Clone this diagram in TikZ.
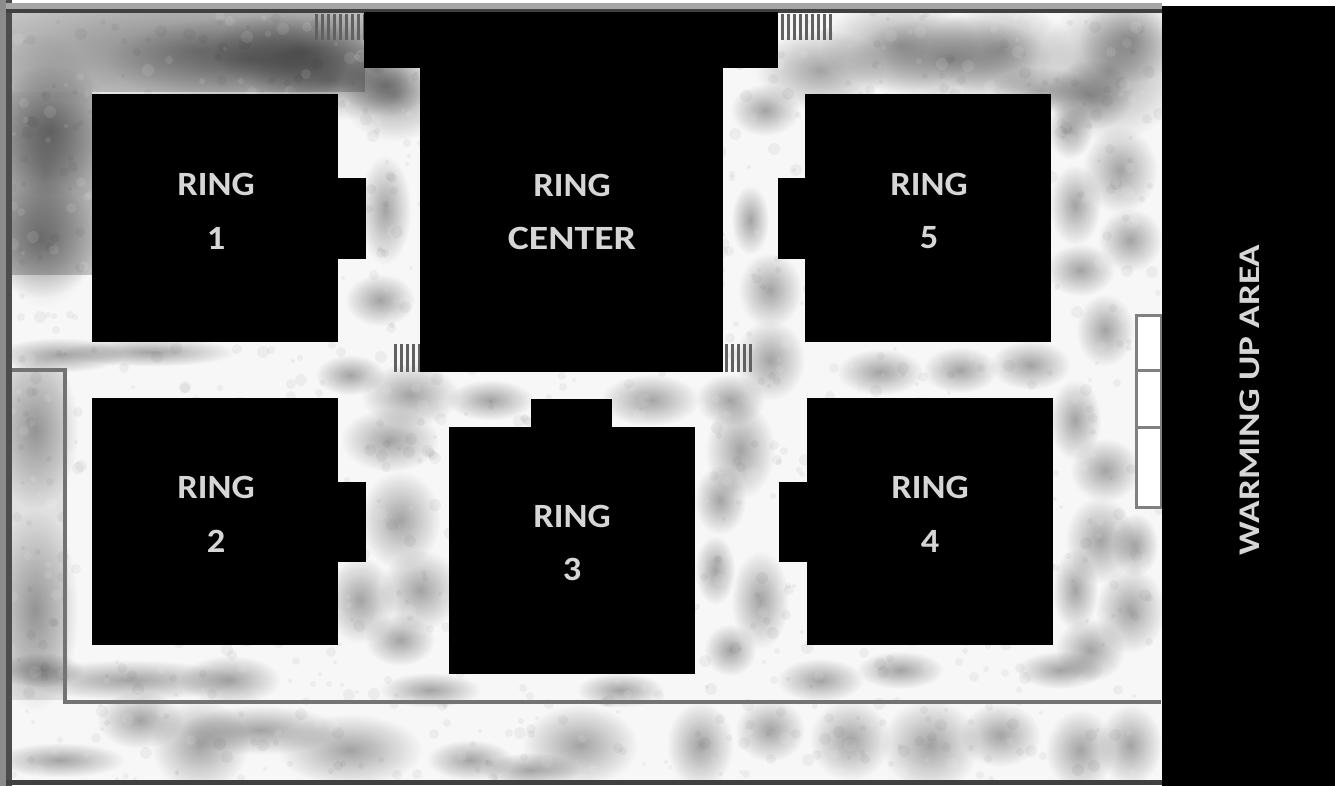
\documentclass[tikz,border=0pt]{standalone}
\usepackage{fontspec}
\usetikzlibrary{fadings}
\setmainfont{Carlito}
\definecolor{frame}{gray}{0.55}
\definecolor{labelgray}{gray}{0.84}
\tikzfading[name=softblob,inner color=transparent!66,outer color=transparent!100]
\tikzset{
  x=1pt,y=-1pt,
  solidblock/.style={fill=black,draw=none},
  ringlabel/.style={text=labelgray,font=\fontsize{34}{34}\selectfont\bfseries,inner sep=0pt},
  bigbox/.style={solidblock,draw=none,minimum width=246pt,minimum height=247pt,inner sep=0pt},
  tabbox/.style={solidblock,inner sep=0pt},
  stripebar/.style={fill=black!62,draw=none},
  fenceline/.style={draw=black!55,line width=4pt},
  boxline/.style={draw=black!50,line width=3pt,fill=white},
}
\newcommand{\mottle}[4]{% x y rx ry
  \fill[black,path fading=softblob] (#1,#2) ellipse [x radius=#3*1.45,y radius=#4*1.45];}
\newcommand{\wlabel}[1]{\scalebox{1.07}[1]{#1}}
\begin{document}
\begin{tikzpicture}
\useasboundingbox (0,0) rectangle (1335,786);
\fill[white] (0,0) rectangle (1335,786);
% paper field
\fill[black!3] (8,10) rectangle (1162,782);
\begin{scope}
\clip (8,10) rectangle (1162,782);
% broader grey areas
\fill[black!22] (12,13) rectangle (365,92);
\fill[black!24] (12,92) rectangle (92,275);
\fill[black!12] (12,372) rectangle (65,700);
\foreach \a/\b/\c/\d in {
 200/50/165/42, 250/60/100/30, 330/80/55/28, 300/50/60/30,
 45/170/45/95, 40/240/40/40, 50/130/45/45,
 395/95/38/32, 385/85/30/22,
 35/430/30/55, 35/610/30/70,
 900/45/55/32, 1000/50/50/32, 1110/70/50/50, 820/70/45/28, 1090/95/30/24, 950/60/70/30, 1130/40/35/30, 1040/90/35/16,
 1120/170/26/30, 1075/205/18/28, 1130/240/22/22, 1080/270/24/18, 1105/330/20/25,
 1075/420/18/28, 1105/470/24/22, 1100/540/24/30, 1075/590/16/28, 1130/610/24/30, 1090/650/24/22, 1135/545/16/22,
 150/352/60/10, 60/355/45/12, 410/395/34/22, 650/400/34/18, 770/360/24/28, 880/372/30/16, 960/370/26/16, 1030/365/28/17, 730/400/24/18, 490/400/30/14, 350/375/24/14,
 385/210/18/38, 380/300/24/18, 765/110/24/18, 770/290/22/26, 750/220/13/24, 1070/130/16/20,
 390/440/34/22, 400/520/28/34, 420/590/28/28, 360/600/24/30, 400/640/24/18,
 740/450/24/34, 720/500/18/24, 760/600/20/34, 730/650/18/18, 715/570/14/24,
 130/680/75/14, 230/680/35/17, 430/690/35/12, 620/690/30/12, 820/680/30/15, 900/670/30/13, 1060/670/30/13, 40/670/30/12,
 200/745/34/32, 260/730/55/17, 60/760/45/12, 580/745/40/28, 700/745/23/30, 770/730/24/22, 850/740/28/28, 930/745/34/32, 1000/735/28/22, 1080/750/24/28, 1130/745/22/28, 530/770/34/12, 140/720/30/20, 470/760/30/14, 350/750/50/25}
 {\mottle{\a}{\b}{\c}{\d}}
% fine grain
\pgfmathsetseed{4711}
\foreach \n in {1,...,1100}{
  \pgfmathsetmacro{\gx}{random(12,1160)}
  \pgfmathsetmacro{\gy}{random(12,780)}
  \pgfmathsetmacro{\gr}{random(2,6)}
  \fill[black,opacity=0.045] (\gx,\gy) circle [radius=\gr];
}
\foreach \n in {1,...,700}{
  \pgfmathsetmacro{\gx}{random(12,1160)}
  \pgfmathsetmacro{\gy}{random(12,780)}
  \pgfmathsetmacro{\gr}{random(2,6)}
  \fill[white,opacity=0.10] (\gx,\gy) circle [radius=\gr];
}
\end{scope}
% outer frame
\fill[frame] (0,0) rectangle (6,786);
\fill[black!70] (6,0) rectangle (12,786);
\fill[black!35] (6,3) rectangle (1162,9);
\fill[black!75] (6,9) rectangle (1162,13);
\fill[black!75] (6,780) rectangle (1162,785);
% stripes
\foreach \p in {315,321,...,363}{\fill[stripebar] (\p,14) rectangle +(3,26);}
\foreach \p in {781,787,...,829}{\fill[stripebar] (\p,14) rectangle +(3,26);}
\foreach \p in {394,400,...,418}{\fill[stripebar] (\p,344) rectangle +(3,28);}
\foreach \p in {725,731,...,749}{\fill[stripebar] (\p,344) rectangle +(3,28);}
% fence
\coordinate (fenceA) at (12,370);
\coordinate (fenceB) at (65,370);
\coordinate (fenceC) at (65,702);
\coordinate (fenceD) at (1161,702);
\draw[fenceline] (fenceA) -- (fenceB) -- (fenceC) -- (fenceD);
% warming up boxes
\draw[boxline] (1161,315) -- (1136,315) -- (1136,507) -- (1161,507) -- cycle;
\coordinate (divAl) at (1136,370); \coordinate (divAr) at (1161,370);
\coordinate (divBl) at (1136,427); \coordinate (divBr) at (1161,427);
\draw[boxline] (divAl) -- (divAr);
\draw[boxline] (divBl) -- (divBr);
% warming area
\fill[solidblock] (1162,6) rectangle (1335,786);
\node[ringlabel,rotate=90,font=\fontsize{30}{30}\selectfont\bfseries] (warm) at (1250,400) {\scalebox{1.24}[1]{WARMING UP AREA}};
% center ring
\fill[solidblock] (364,12) rectangle (778,68);
\fill[solidblock] (420,12) rectangle (723,372);
% rings
\node[bigbox] (r1) at (215,218) {};
\node[bigbox] (r5) at (928,218) {};
\node[bigbox] (r2) at (215,521) {};
\node[bigbox] (r3) at (572,550) {};
\node[bigbox] (r4) at (929.5,521) {};
\fill[tabbox] (338,178) rectangle (366,259);
\fill[tabbox] (778,178) rectangle (806,259);
\fill[tabbox] (338,482) rectangle (366,562);
\fill[tabbox] (531,399) rectangle (612,428);
\fill[tabbox] (779,482) rectangle (808,562);
% labels
\node[ringlabel] (l1a) at (216,184) {\wlabel{RING}};
\node[ringlabel] (l1b) at (216,238) {\wlabel{1}};
\node[ringlabel] (lca) at (572,185) {\wlabel{RING}};
\node[ringlabel] (lcb) at (572,238) {\scalebox{1.17}[1]{CENTER}};
\node[ringlabel] (l5a) at (929,184) {\wlabel{RING}};
\node[ringlabel] (l5b) at (929,238) {\wlabel{5}};
\node[ringlabel] (l2a) at (216,487) {\wlabel{RING}};
\node[ringlabel] (l2b) at (216,541) {\wlabel{2}};
\node[ringlabel] (l3a) at (572,516) {\wlabel{RING}};
\node[ringlabel] (l3b) at (572,569) {\wlabel{3}};
\node[ringlabel] (l4a) at (930,487) {\wlabel{RING}};
\node[ringlabel] (l4b) at (930,541) {\wlabel{4}};
\end{tikzpicture}
\end{document}
